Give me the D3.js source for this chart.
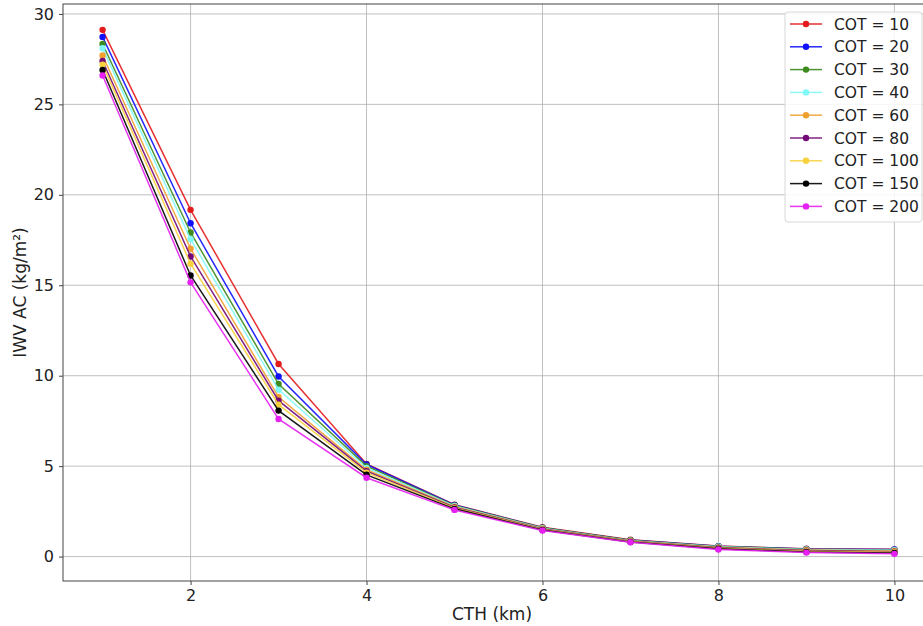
<!DOCTYPE html>
<html><head><meta charset="utf-8">
<script src="https://cdn.jsdelivr.net/npm/d3@7"></script>
<style>body{margin:0;background:#fff;} svg{display:block;font-family:"DejaVu Sans",sans-serif;}</style>
</head><body>
<svg id="c" width="923" height="626"></svg>
<script>
const cth = [1,2,3,4,5,6,7,8,9,10];
const seriesNames = ["COT = 10","COT = 20","COT = 30","COT = 40","COT = 60","COT = 80","COT = 100","COT = 150","COT = 200"];
const cot10  = [29.12,19.17,10.65,5.12,2.87,1.62,0.93,0.58,0.43,0.40];
const cot20  = [28.73,18.43,9.96,5.09,2.85,1.60,0.91,0.57,0.42,0.39];
const cot30  = [28.34,17.92,9.54,5.00,2.83,1.59,0.90,0.56,0.41,0.37];
const cot40  = [28.10,17.55,9.23,4.90,2.80,1.57,0.88,0.54,0.39,0.35];
const cot60  = [27.70,17.02,8.82,4.80,2.76,1.54,0.86,0.51,0.36,0.31];
const cot80  = [27.40,16.59,8.62,4.72,2.72,1.52,0.85,0.49,0.33,0.27];
const cot100 = [27.20,16.19,8.40,4.64,2.68,1.50,0.83,0.46,0.30,0.24];
const cot150 = [26.90,15.54,8.07,4.52,2.64,1.47,0.81,0.43,0.26,0.20];
const cot200 = [26.60,15.16,7.61,4.36,2.58,1.44,0.79,0.39,0.22,0.15];
const allSeries = [cot10,cot20,cot30,cot40,cot60,cot80,cot100,cot150,cot200];
const colors = ["#e31a1c","#1010ff","#3d8a1e","#80f8f8","#f0a030","#740a78","#f7d23e","#000000","#e620f2"];
const xTicks = [2,4,6,8,10];
const yTicks = [0,5,10,15,20,25,30];

const svg = d3.select("#c");
const L = 63, T = 4, B = 581, R = 934;
const x = d3.scaleLinear().domain([0.55,10.45]).range([L,R]);
const y = d3.scaleLinear().domain([-1.35,30.55]).range([B,T]);

// grid
svg.append("g").selectAll("line").data(xTicks).join("line")
  .attr("x1",d=>x(d)).attr("x2",d=>x(d)).attr("y1",T).attr("y2",B)
  .attr("stroke","#b0b0b0").attr("stroke-width",0.8);
svg.append("g").selectAll("line").data(yTicks).join("line")
  .attr("x1",L).attr("x2",R).attr("y1",d=>y(d)).attr("y2",d=>y(d))
  .attr("stroke","#b0b0b0").attr("stroke-width",0.8);

// axes
const xa = svg.append("g").attr("transform",`translate(0,${B})`)
  .call(d3.axisBottom(x).tickValues(xTicks).tickSize(4).tickPadding(5).tickFormat(d3.format("d")));
const ya = svg.append("g").attr("transform",`translate(${L},0)`)
  .call(d3.axisLeft(y).tickValues(yTicks).tickSize(4).tickPadding(5).tickFormat(d3.format("d")));
[xa,ya].forEach(a=>{
  a.select(".domain").remove();
  a.selectAll("text").attr("font-size",16).attr("fill","#222").attr("font-family","DejaVu Sans");
  a.selectAll("line").attr("stroke","#444");
});
svg.append("rect").attr("x",L).attr("y",T).attr("width",R-L).attr("height",B-T)
  .attr("fill","none").attr("stroke","#444").attr("stroke-width",1);

// lines
const line = d3.line().x((d,i)=>x(cth[i])).y(d=>y(d));
allSeries.forEach((s,k)=>{
  const g = svg.append("g");
  g.append("path").datum(s).attr("d",line).attr("fill","none")
    .attr("stroke",colors[k]).attr("stroke-width",1.5).attr("stroke-opacity",0.9);
  g.selectAll("circle").data(s).join("circle")
    .attr("cx",(d,i)=>x(cth[i])).attr("cy",d=>y(d)).attr("r",3.2).attr("fill",colors[k]);
});

// labels
svg.append("text").attr("x",(L+R-13)/2).attr("y",620).attr("text-anchor","middle")
  .attr("font-size",17).attr("fill","#222").text("CTH (km)");
svg.append("text").attr("transform",`translate(26,${(T+B)/2}) rotate(-90)`).attr("text-anchor","middle")
  .attr("font-size",17).attr("fill","#222").text("IWV AC (kg/m²)");

// legend
const lg = svg.append("g");
lg.append("rect").attr("x",785).attr("y",12).attr("width",137).attr("height",210).attr("rx",3)
  .attr("fill","#fff").attr("fill-opacity",0.85).attr("stroke","#d8d8d8");
seriesNames.forEach((n,k)=>{
  const yy = 24 + k*22.8;
  lg.append("line").attr("x1",790).attr("x2",822).attr("y1",yy).attr("y2",yy)
    .attr("stroke",colors[k]).attr("stroke-width",1.5).attr("stroke-opacity",0.9);
  lg.append("circle").attr("cx",806).attr("cy",yy).attr("r",3.2).attr("fill",colors[k]);
  lg.append("text").attr("x",834).attr("y",yy+5.5).attr("font-size",15.5).attr("fill","#222").text(n);
});
</script>
</body></html>
